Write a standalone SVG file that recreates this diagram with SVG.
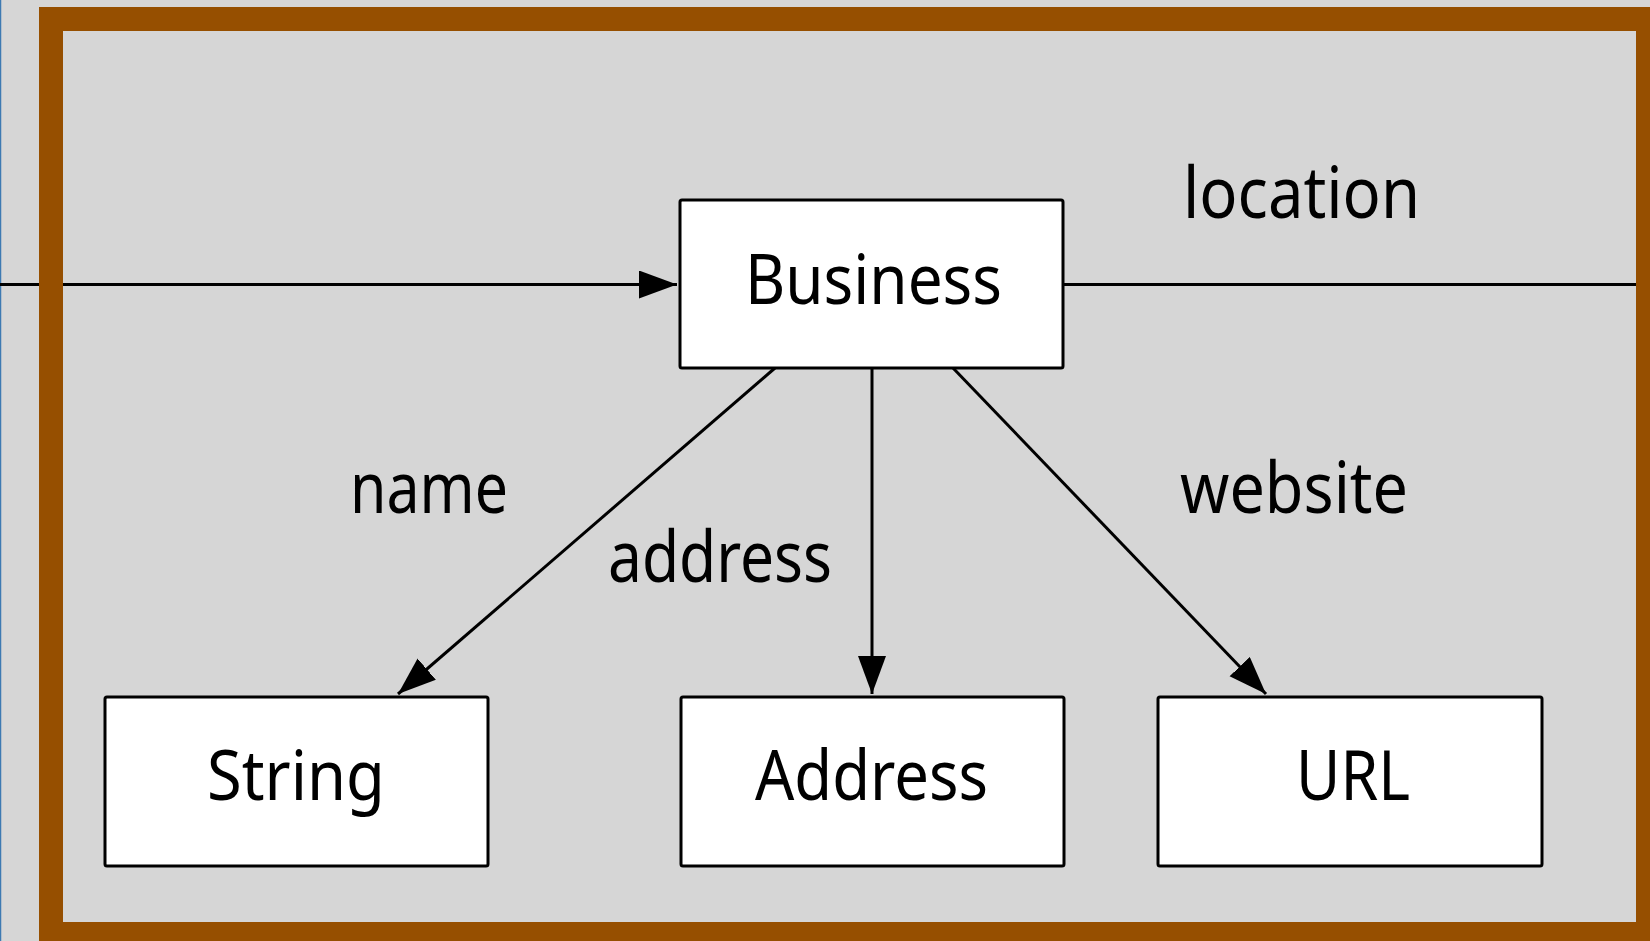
<svg xmlns="http://www.w3.org/2000/svg" width="1650" height="941" viewBox="0 0 1650 941">
  <style>
    .node rect { fill: #ffffff; stroke: #000000; stroke-width: 3; }
    .node text { font-family: "Noto Sans", "DejaVu Sans", sans-serif; font-size: 70px; fill: #000000; text-anchor: middle; }
    .edge { stroke: #000000; stroke-width: 3; fill: none; }
    .label { font-family: "Noto Sans", "DejaVu Sans", sans-serif; font-size: 72px; fill: #000000; }
  </style>
  <defs>
    <marker id="arrow" markerUnits="userSpaceOnUse" markerWidth="40" markerHeight="30" refX="38" refY="14" orient="auto">
      <path d="M0,0 L38,14 L0,28 Z" fill="#000000"/>
    </marker>
  </defs>

  <!-- background -->
  <rect x="0" y="0" width="1650" height="941" fill="#d6d6d6"/>
  <line x1="0.5" y1="0" x2="0.5" y2="941" stroke="#3d7ab2" stroke-width="1.5"/>

  <!-- connectors -->
  <g id="connectors">
    <line class="edge" x1="0" y1="284.5" x2="677" y2="284.5" marker-end="url(#arrow)"/>
    <line class="edge" x1="1063" y1="284.5" x2="1650" y2="284.5"/>
    <line class="edge" x1="775" y1="368" x2="398" y2="694" marker-end="url(#arrow)"/>
    <line class="edge" x1="872" y1="368" x2="872" y2="694" marker-end="url(#arrow)"/>
    <line class="edge" x1="953" y1="368" x2="1266" y2="694" marker-end="url(#arrow)"/>
  </g>

  <!-- edge labels -->
  <g id="edge-labels">
    <text class="label" x="1183" y="218" textLength="237" lengthAdjust="spacingAndGlyphs">location</text>
    <text class="label" x="350" y="513" textLength="158" lengthAdjust="spacingAndGlyphs">name</text>
    <text class="label" x="608" y="582" textLength="224" lengthAdjust="spacingAndGlyphs">address</text>
    <text class="label" x="1180" y="513" textLength="228" lengthAdjust="spacingAndGlyphs">website</text>
  </g>

  <!-- nodes -->
  <g id="business" class="node">
    <rect x="680" y="200" width="383" height="168" rx="2"/>
    <text x="873.5" y="304" textLength="257" lengthAdjust="spacingAndGlyphs">Business</text>
  </g>
  <g id="string" class="node">
    <rect x="105" y="697" width="383" height="169" rx="2"/>
    <text x="296" y="800" textLength="178" lengthAdjust="spacingAndGlyphs">String</text>
  </g>
  <g id="address" class="node">
    <rect x="681" y="697" width="383" height="169" rx="2"/>
    <text x="871.5" y="800" textLength="233" lengthAdjust="spacingAndGlyphs">Address</text>
  </g>
  <g id="url" class="node">
    <rect x="1158" y="697" width="384" height="169" rx="2"/>
    <text x="1353" y="800" textLength="114" lengthAdjust="spacingAndGlyphs">URL</text>
  </g>

  <!-- frame -->
  <rect x="51" y="19" width="1597" height="915" fill="none" stroke="#964f00" stroke-width="24"/>
</svg>
